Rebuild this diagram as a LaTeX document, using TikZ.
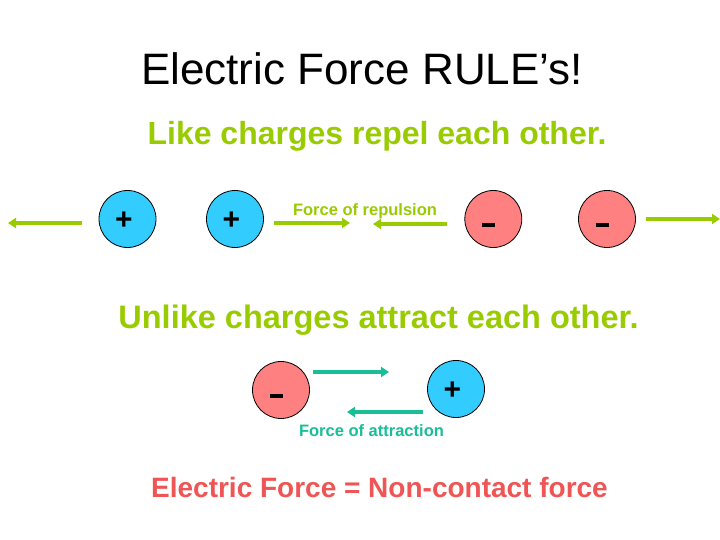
\documentclass[tikz,border=0pt]{standalone}
\usepackage{fontspec}
\setmainfont{Liberation Sans}
\usetikzlibrary{arrows.meta}
\definecolor{lgreen}{RGB}{153,204,0}
\definecolor{cblue}{RGB}{51,204,255}
\definecolor{cpink}{RGB}{255,128,128}
\definecolor{cteal}{RGB}{26,190,150}
\definecolor{cred}{RGB}{240,85,85}
\newcommand{\minussign}{\raisebox{-8.2pt}[0pt][0pt]{\rule{13pt}{4.5pt}}\kern10pt}
\newcommand{\plussign}{\raisebox{-10.6pt}[0pt][0pt]{+}\kern7pt}
\begin{document}
\begin{tikzpicture}[x=1pt,y=-1pt,
  charge/.style={circle,draw=black,line width=0.8pt,minimum size=57pt,inner sep=0pt,font=\bfseries\fontsize{30}{30}\selectfont},
  poschg/.style={charge,fill=cblue},
  negchg/.style={charge,fill=cpink},
  farrow/.style={line width=3.5pt,-{Triangle[length=8pt,width=10pt]}},
  txt/.style={anchor=base,inner sep=0pt}]
\useasboundingbox (0,0) rectangle (720,540);
\fill[white] (0,0) rectangle (720,540);
% titles
\node[txt,font=\fontsize{44}{50}\selectfont] (title) at (362,85) {Electric Force RULE’s!};
\node[txt,font=\bfseries\fontsize{32}{36}\selectfont,text=lgreen] (like) at (377,145) {Like charges repel each other.};
\node[txt,font=\bfseries\fontsize{32.5}{36}\selectfont,text=lgreen] (unlike) at (378.5,328) {Unlike charges attract each other.};
\node[txt,font=\bfseries\fontsize{28}{32}\selectfont,text=cred] (bottom) at (379.5,497) {Electric Force = Non-contact force};
% repulsion
\node[poschg] (p1) at (127.5,219) {\plussign};
\node[poschg] (p2) at (235,219) {\plussign};
\node[negchg] (m1) at (493.3,219) {\minussign};
\node[negchg] (m2) at (607,219) {\minussign};
\coordinate (a1s) at (82,223); \coordinate (a1e) at (8,223);
\coordinate (a2s) at (274,223); \coordinate (a2e) at (350,223);
\coordinate (a3s) at (447,224); \coordinate (a3e) at (373,224);
\coordinate (a4s) at (646,219); \coordinate (a4e) at (720,219);
\draw[farrow,lgreen] (a1s) -- (a1e);
\draw[farrow,lgreen] (a2s) -- (a2e);
\draw[farrow,lgreen] (a3s) -- (a3e);
\draw[farrow,lgreen] (a4s) -- (a4e);
\node[txt,font=\bfseries\fontsize{16.5}{18}\selectfont,text=lgreen] (rep) at (365,215) {Force of repulsion};
% attraction
\node[negchg] (m3) at (281,390) {\minussign};
\node[poschg] (p3) at (456,389) {\plussign};
\coordinate (b1s) at (313,372); \coordinate (b1e) at (389,372);
\coordinate (b2s) at (423,412); \coordinate (b2e) at (347,412);
\draw[farrow,cteal] (b1s) -- (b1e);
\draw[farrow,cteal] (b2s) -- (b2e);
\node[txt,font=\bfseries\fontsize{16.5}{18}\selectfont,text=cteal] (att) at (371.5,436) {Force of attraction};
\end{tikzpicture}
\end{document}
